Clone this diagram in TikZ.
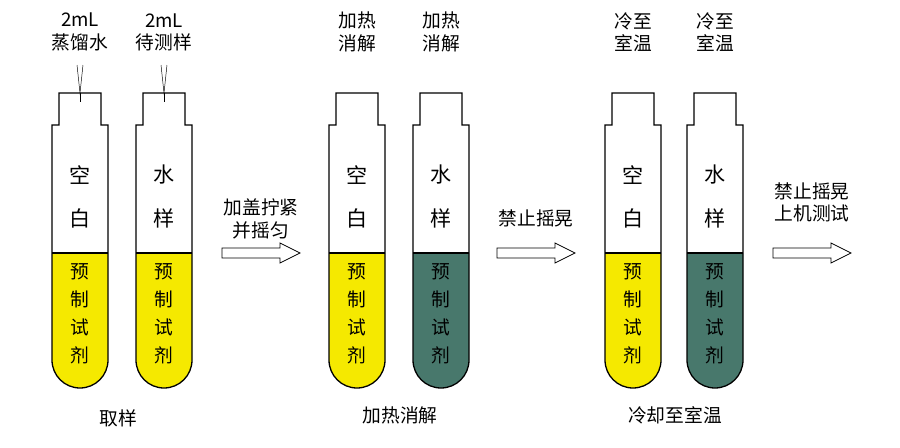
\documentclass[tikz,border=0pt]{standalone}
\usepackage{fontspec}
\setmainfont{Noto Sans CJK SC}
\usetikzlibrary{positioning}
\definecolor{reagent}{RGB}{245,233,0}
\definecolor{heated}{RGB}{72,120,108}
\tikzset{
  lbl/.style={font=\fontsize{16}{19}\selectfont,align=center,inner sep=0pt},
  tube/.pic={
    \fill[#1] (-28,253) -- (-28,360) arc (180:0:28) -- (28,253) -- cycle;
    \draw[line width=1.1pt] (-21,93) -- (21,93) -- (21,125) -- (28,125) -- (28,360) arc (0:180:28) -- (-28,125) -- (-21,125) -- cycle;
    \draw[line width=1.1pt] (-28,253) -- (28,253);
  },
  hollow/.style={draw,line width=0.6pt,fill=white}
}
\newcommand{\hollowarrow}[2]{%
  \draw[hollow] (#1,248) -- (#1+58,248) -- (#1+58,243) -- (#1+78,#2) -- (#1+58,263) -- (#1+58,258) -- (#1,258) -- cycle;}
\begin{document}
\begin{tikzpicture}[x=0.03cm,y=-0.03cm,thick]
  \useasboundingbox (0,0) rectangle (900,447);
  % tubes
  \foreach \cx/\fc/\ta/\tb in {80/reagent/空/白,164/reagent/水/样,357/reagent/空/白,441/heated/水/样,633/reagent/空/白,715/heated/水/样}{
    \pic at (\cx,0) {tube=\fc};
    \node[lbl,font=\fontsize{18}{21}\selectfont] at (\cx,175) {\ta};
    \node[lbl,font=\fontsize{18}{21}\selectfont] at (\cx,218) {\tb};
    \node[lbl,align=center] at (\cx,314) {预\\[5pt]制\\[5pt]试\\[5pt]剂};
  }
  % pipettes
  \foreach \cx in {80,164}{
    \draw[thin] (\cx-3,65) -- (\cx,93) -- (\cx+3,65);
    \draw[thin] (\cx,93) -- (\cx,102);
  }
  % top labels
  \node[lbl] (lw) at (80,32) {2mL\\蒸馏水};
  \node[lbl] (ls) at (164,32) {2mL\\待测样};
  \node[lbl] (h1) at (357,32) {加热\\消解};
  \node[lbl] (h2) at (441,32) {加热\\消解};
  \node[lbl] (c1) at (633,32) {冷至\\室温};
  \node[lbl] (c2) at (715,32) {冷至\\室温};
  % step arrows
  \hollowarrow{222}{253}
  \hollowarrow{497}{253}
  \hollowarrow{773}{253}
  \node[lbl] (s1) at (261,219) {加盖拧紧\\并摇匀};
  \node[lbl] (s2) at (536,218) {禁止摇晃};
  \node[lbl] (s3) at (812,202) {禁止摇晃\\上机测试};
  % stage captions
  \node[lbl] (t1) at (118,418) {取样};
  \node[lbl] (t2) at (400,415) {加热消解};
  \node[lbl] (t3) at (675,415) {冷却至室温};
\end{tikzpicture}
\end{document}
